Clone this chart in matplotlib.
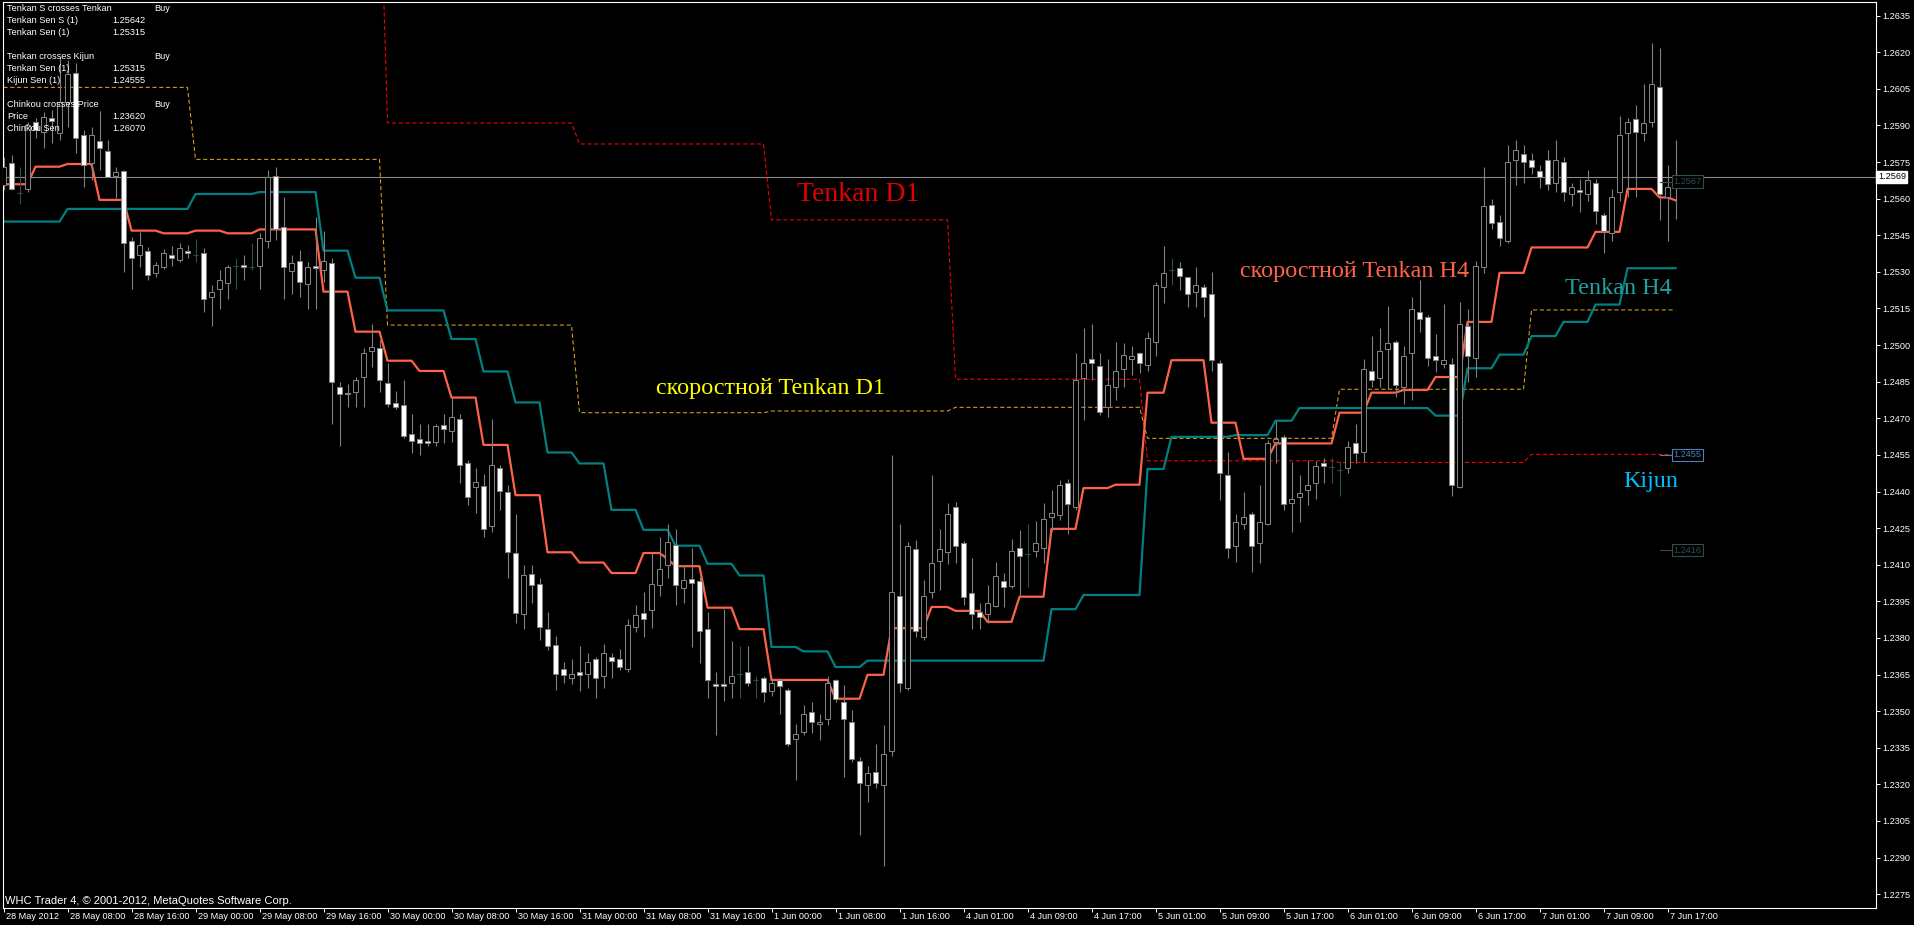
import numpy as np
import matplotlib
matplotlib.use("Agg")
import matplotlib.pyplot as plt
import matplotlib.transforms as mtransforms
from matplotlib.patches import Rectangle

plt.rcParams['font.family'] = ['Liberation Sans', 'DejaVu Sans']

W, H = 1914, 925

# EURUSD H1 candles, 28 May - 7 Jun 2012
opens = [1.25656, 1.25748, 1.25625, 1.25638, 1.25915, 1.25875, 1.25929, 1.25870, 1.25997, 1.26116,
         1.25859, 1.25748, 1.25838, 1.25797, 1.25694, 1.25715, 1.25428, 1.25368, 1.25387, 1.25297,
         1.25319, 1.25368, 1.25349, 1.25387, 1.25368, 1.25376, 1.25196, 1.25229, 1.25256, 1.25325,
         1.25327, 1.25320, 1.25326, 1.25428, 1.25694, 1.25485, 1.25305, 1.25346, 1.25249, 1.25325,
         1.25308, 1.25338, 1.24827, 1.24805, 1.24806, 1.24868, 1.24977, 1.24987, 1.24846, 1.24764,
         1.24756, 1.24634, 1.24615, 1.24606, 1.24604, 1.24674, 1.24647, 1.24696, 1.24516, 1.24419,
         1.24424, 1.24257, 1.24495, 1.24397, 1.24147, 1.23897, 1.24063, 1.24022, 1.23836, 1.23772,
         1.23674, 1.23636, 1.23661, 1.23654, 1.23715, 1.23646, 1.23722, 1.23715, 1.23672, 1.23843,
         1.23904, 1.23915, 1.24015, 1.24097, 1.24180, 1.24006, 1.24043, 1.24033, 1.23836, 1.23613,
         1.23613, 1.23614, 1.23654, 1.23661, 1.23627, 1.23634, 1.23584, 1.23627, 1.23586, 1.23384,
         1.23414, 1.23495, 1.23448, 1.23468, 1.23627, 1.23536, 1.23454, 1.23294, 1.23196, 1.23252,
         1.23196, 1.23336, 1.23972, 1.23593, 1.24166, 1.23805, 1.23987, 1.24116, 1.24154, 1.24335,
         1.24188, 1.23985, 1.23905, 1.23898, 1.23930, 1.24034, 1.24012, 1.24167, 1.24146, 1.24156,
         1.24167, 1.24294, 1.24303, 1.24436, 1.24335, 1.24867, 1.24945, 1.24915, 1.24745, 1.24827,
         1.24903, 1.24945, 1.24966, 1.24917, 1.25014, 1.25236, 1.25307, 1.25317, 1.25277, 1.25216,
         1.25236, 1.25208, 1.24925, 1.24466, 1.24177, 1.24267, 1.24306, 1.24188, 1.24267, 1.24604,
         1.24624, 1.24354, 1.24376, 1.24406, 1.24436, 1.24515, 1.24499, 1.24488, 1.24495, 1.24597,
         1.24563, 1.24895, 1.24867, 1.24986, 1.25014, 1.24827, 1.24966, 1.25136, 1.25117, 1.24956,
         1.24924, 1.24924, 1.24418, 1.25078, 1.24946, 1.25319, 1.25575, 1.25505, 1.25428, 1.25757,
         1.25783, 1.25757, 1.25714, 1.25757, 1.25666, 1.25750, 1.25618, 1.25637, 1.25618, 1.25666,
         1.25534, 1.25458, 1.25627, 1.25867, 1.25927, 1.25868, 1.25915, 1.26057, 1.25605, 1.25656]
highs = [1.25772, 1.25779, 1.25731, 1.25915, 1.25929, 1.25956, 1.25963, 1.26182, 1.26168, 1.26155,
         1.25881, 1.25895, 1.25959, 1.25840, 1.25731, 1.25717, 1.25444, 1.25465, 1.25403, 1.25342,
         1.25392, 1.25407, 1.25420, 1.25410, 1.25433, 1.25397, 1.25246, 1.25308, 1.25328, 1.25356,
         1.25369, 1.25417, 1.25458, 1.25717, 1.25731, 1.25608, 1.25369, 1.25390, 1.25342, 1.25526,
         1.25469, 1.25356, 1.24850, 1.24839, 1.24868, 1.24987, 1.25086, 1.25021, 1.24925, 1.24813,
         1.24857, 1.24716, 1.24677, 1.24677, 1.24677, 1.24716, 1.24782, 1.24716, 1.24530, 1.24495,
         1.24472, 1.24697, 1.24507, 1.24427, 1.24306, 1.24100, 1.24100, 1.24045, 1.23907, 1.23809,
         1.23702, 1.23715, 1.23766, 1.23738, 1.23722, 1.23775, 1.23738, 1.23753, 1.23878, 1.23933,
         1.23987, 1.24154, 1.24215, 1.24268, 1.24245, 1.24097, 1.24169, 1.24048, 1.23907, 1.23661,
         1.23919, 1.23786, 1.23768, 1.23768, 1.23646, 1.23646, 1.23631, 1.23636, 1.23593, 1.23449,
         1.23525, 1.23536, 1.23490, 1.23646, 1.23631, 1.23608, 1.23505, 1.23313, 1.23275, 1.23366,
         1.23445, 1.24548, 1.24268, 1.24192, 1.24203, 1.24036, 1.24468, 1.24245, 1.24351, 1.24358,
         1.24199, 1.24126, 1.23942, 1.24017, 1.24112, 1.24067, 1.24204, 1.24242, 1.24267, 1.24280,
         1.24354, 1.24406, 1.24447, 1.24450, 1.24969, 1.25068, 1.25086, 1.24966, 1.24945, 1.25011,
         1.25007, 1.24996, 1.24971, 1.25055, 1.25259, 1.25408, 1.25355, 1.25341, 1.25280, 1.25318,
         1.25250, 1.25298, 1.24938, 1.24563, 1.24308, 1.24398, 1.24316, 1.24426, 1.24611, 1.24690,
         1.24631, 1.24522, 1.24467, 1.24529, 1.24526, 1.24536, 1.24536, 1.24526, 1.24608, 1.24676,
         1.24945, 1.25038, 1.25068, 1.25160, 1.25020, 1.24996, 1.25195, 1.25266, 1.25125, 1.25047,
         1.25167, 1.24949, 1.25176, 1.25147, 1.25344, 1.25729, 1.25597, 1.25534, 1.25820, 1.25839,
         1.25820, 1.25788, 1.25739, 1.25798, 1.25839, 1.25772, 1.25666, 1.25681, 1.25717, 1.25681,
         1.25542, 1.25640, 1.25940, 1.25930, 1.25985, 1.26069, 1.26237, 1.26219, 1.25739, 1.25839]
lows = [1.25636, 1.25636, 1.25578, 1.25629, 1.25847, 1.25806, 1.25827, 1.25840, 1.25895, 1.25786,
        1.25649, 1.25677, 1.25717, 1.25687, 1.25601, 1.25301, 1.25229, 1.25321, 1.25267, 1.25280,
        1.25310, 1.25326, 1.25342, 1.25356, 1.25342, 1.25137, 1.25078, 1.25147, 1.25188, 1.25229,
        1.25267, 1.25308, 1.25229, 1.25397, 1.25431, 1.25188, 1.25208, 1.25198, 1.25147, 1.25147,
        1.25260, 1.24675, 1.24587, 1.24745, 1.24745, 1.24745, 1.24912, 1.24806, 1.24748, 1.24737,
        1.24618, 1.24557, 1.24550, 1.24587, 1.24587, 1.24598, 1.24604, 1.24434, 1.24345, 1.24313,
        1.24215, 1.24233, 1.24324, 1.24045, 1.23863, 1.23836, 1.23945, 1.23793, 1.23752, 1.23586,
        1.23616, 1.23613, 1.23584, 1.23593, 1.23555, 1.23593, 1.23636, 1.23669, 1.23661, 1.23824,
        1.23805, 1.23842, 1.23972, 1.24045, 1.23933, 1.23945, 1.23763, 1.23699, 1.23555, 1.23404,
        1.23540, 1.23555, 1.23555, 1.23605, 1.23555, 1.23536, 1.23563, 1.23487, 1.23358, 1.23217,
        1.23404, 1.23411, 1.23381, 1.23445, 1.23536, 1.23232, 1.23293, 1.22993, 1.23126, 1.23184,
        1.22866, 1.23318, 1.23578, 1.23586, 1.23805, 1.23793, 1.23965, 1.23995, 1.24101, 1.24106,
        1.23935, 1.23835, 1.23835, 1.23860, 1.23925, 1.23925, 1.24003, 1.23969, 1.24007, 1.24133,
        1.24106, 1.24239, 1.24283, 1.24226, 1.24324, 1.24695, 1.24857, 1.24713, 1.24706, 1.24775,
        1.24827, 1.24877, 1.24887, 1.24895, 1.24955, 1.25173, 1.25246, 1.25225, 1.25157, 1.25157,
        1.25116, 1.24895, 1.24365, 1.24126, 1.24112, 1.24245, 1.24069, 1.24106, 1.24263, 1.24518,
        1.24324, 1.24235, 1.24276, 1.24344, 1.24368, 1.24436, 1.24436, 1.24381, 1.24477, 1.24515,
        1.24522, 1.24827, 1.24829, 1.24822, 1.24786, 1.24758, 1.24777, 1.25055, 1.24915, 1.24891,
        1.24905, 1.24383, 1.24415, 1.24847, 1.24869, 1.25296, 1.25476, 1.25407, 1.25417, 1.25656,
        1.25666, 1.25700, 1.25644, 1.25637, 1.25627, 1.25589, 1.25568, 1.25546, 1.25589, 1.25498,
        1.25378, 1.25428, 1.25589, 1.25608, 1.25608, 1.25837, 1.25893, 1.25513, 1.25428, 1.25515]
closes = [1.25731, 1.25638, 1.25625, 1.25902, 1.25881, 1.25936, 1.25920, 1.25997, 1.26111, 1.25850,
          1.25738, 1.25859, 1.25806, 1.25690, 1.25708, 1.25417, 1.25356, 1.25409, 1.25286, 1.25327,
          1.25376, 1.25356, 1.25397, 1.25376, 1.25368, 1.25188, 1.25218, 1.25267, 1.25321, 1.25325,
          1.25319, 1.25320, 1.25437, 1.25687, 1.25477, 1.25319, 1.25338, 1.25259, 1.25321, 1.25317,
          1.25346, 1.24849, 1.24798, 1.24798, 1.24857, 1.24966, 1.24994, 1.24857, 1.24759, 1.24745,
          1.24628, 1.24607, 1.24598, 1.24598, 1.24669, 1.24655, 1.24707, 1.24509, 1.24378, 1.24438,
          1.24245, 1.24507, 1.24404, 1.24154, 1.23904, 1.24056, 1.24018, 1.23843, 1.23768, 1.23654,
          1.23648, 1.23654, 1.23648, 1.23702, 1.23636, 1.23738, 1.23705, 1.23681, 1.23854, 1.23896,
          1.23878, 1.24022, 1.24083, 1.24195, 1.24018, 1.24036, 1.24025, 1.23828, 1.23627, 1.23605,
          1.23605, 1.23646, 1.23654, 1.23614, 1.23627, 1.23578, 1.23616, 1.23605, 1.23366, 1.23407,
          1.23487, 1.23454, 1.23457, 1.23616, 1.23548, 1.23469, 1.23305, 1.23207, 1.23245, 1.23207,
          1.23324, 1.23987, 1.23616, 1.24177, 1.23828, 1.23972, 1.24106, 1.24166, 1.24306, 1.24177,
          1.23969, 1.23898, 1.23887, 1.23944, 1.24055, 1.24007, 1.24156, 1.24135, 1.24146, 1.24188,
          1.24286, 1.24314, 1.24426, 1.24348, 1.24857, 1.24925, 1.24925, 1.24726, 1.24835, 1.24895,
          1.24958, 1.24956, 1.24925, 1.25027, 1.25248, 1.25296, 1.25307, 1.25285, 1.25209, 1.25248,
          1.25198, 1.24938, 1.24474, 1.24167, 1.24276, 1.24294, 1.24177, 1.24276, 1.24597, 1.24617,
          1.24348, 1.24368, 1.24395, 1.24426, 1.24506, 1.24506, 1.24499, 1.24488, 1.24583, 1.24556,
          1.24904, 1.24857, 1.24977, 1.25007, 1.24835, 1.24956, 1.25146, 1.25105, 1.24949, 1.24939,
          1.24939, 1.24425, 1.25085, 1.24956, 1.25325, 1.25568, 1.25501, 1.25439, 1.25750, 1.25798,
          1.25750, 1.25729, 1.25688, 1.25659, 1.25757, 1.25627, 1.25647, 1.25627, 1.25678, 1.25549,
          1.25466, 1.25605, 1.25859, 1.25915, 1.25875, 1.25908, 1.26069, 1.25618, 1.25647, 1.25688]

# Tenkan / Kijun (H1), as levels starting at bar index
tenkan_start = [0, 4, 8, 12, 16, 20, 24, 28, 32, 40, 44, 48, 52, 56, 60, 64, 68, 72, 76, 80,
                83, 84, 88, 92, 96, 104, 108, 111, 116, 119, 123, 127, 131, 135, 139, 143, 146, 151, 155, 159,
                167, 171, 175, 179, 183, 187, 191, 199, 203, 207, 209]
tenkan_val = [1.25659, 1.25731, 1.25742, 1.25595, 1.25469, 1.25458, 1.25469, 1.25458, 1.25474, 1.25219,
              1.25055, 1.24936, 1.24894, 1.24785, 1.24591, 1.24385, 1.24151, 1.24109, 1.24066, 1.24148,
              1.24124, 1.24094, 1.23924, 1.23836, 1.23628, 1.23551, 1.23649, 1.23840, 1.23927, 1.23911,
              1.23866, 1.23969, 1.24247, 1.24414, 1.24428, 1.24805, 1.24938, 1.24682, 1.24534, 1.24597,
              1.24723, 1.24805, 1.24816, 1.24869, 1.25095, 1.25296, 1.25400, 1.25464, 1.25640, 1.25605,
              1.25593]
kijun_start = [0, 8, 24, 32, 40, 44, 48, 56, 60, 64, 68, 72, 76, 80, 84, 88, 92, 96, 100, 104,
               108, 131, 135, 143, 146, 154, 159, 162, 179, 183, 187, 191, 195, 199, 203]
kijun_val = [1.25506, 1.25558, 1.25619, 1.25627, 1.25387, 1.25276, 1.25142, 1.25025, 1.24892, 1.24765,
             1.24560, 1.24515, 1.24325, 1.24243, 1.24178, 1.24104, 1.24056, 1.23763, 1.23745, 1.23681,
             1.23707, 1.23918, 1.23976, 1.24492, 1.24624, 1.24631, 1.24690, 1.24742, 1.24711, 1.24905,
             1.24961, 1.25037, 1.25095, 1.25166, 1.25315]

# daily lines (D1 tenkan and "fast" D1 tenkan)
day_start = [0, 24, 48, 72, 96, 119, 143, 167, 191]
tenkan_d1 = [1.2700, 1.2700, 1.25910, 1.25824, 1.25513, 1.24860, 1.24526, 1.24519, 1.24552]
fast_tenkan_d1 = [1.26056, 1.25761, 1.25082, 1.24723, 1.24730, 1.24745, 1.24618, 1.24819, 1.25144]

time_labels = ["28 May 2012", "28 May 08:00", "28 May 16:00", "29 May 00:00", "29 May 08:00",
               "29 May 16:00", "30 May 00:00", "30 May 08:00", "30 May 16:00", "31 May 00:00",
               "31 May 08:00", "31 May 16:00", "1 Jun 00:00", "1 Jun 08:00", "1 Jun 16:00",
               "4 Jun 01:00", "4 Jun 09:00", "4 Jun 17:00", "5 Jun 01:00", "5 Jun 09:00",
               "5 Jun 17:00", "6 Jun 01:00", "6 Jun 09:00", "6 Jun 17:00", "7 Jun 01:00",
               "7 Jun 09:00", "7 Jun 17:00"]
price_ticks = np.round(np.arange(1.2275, 1.26351, 0.0015), 4)
last_price = 1.2569
price_labels = [1.2567, 1.2455, 1.2416]
price_label_colors = ['#2F4F4F', '#4A7FC0', '#2F4F4F']

info_rows = [("Tenkan S crosses Tenkan", "Buy"), ("Tenkan Sen S (1)", "1.25642"), ("Tenkan Sen (1)", "1.25315"),
             None,
             ("Tenkan crosses Kijun", "Buy"), ("Tenkan Sen (1)", "1.25315"), ("Kijun Sen (1)", "1.24555"),
             None,
             ("Chinkou crosses Price", "Buy"), ("Price", "1.23620"), ("Chinkou Sen", "1.26070")]


def steps(starts, vals, n):
    out = np.zeros(n)
    for s, v in zip(starts, vals):
        out[s:] = v
    return out


def fx(px):
    return px / W


def fy(py):
    return 1 - py / H


fig = plt.figure(figsize=(W / 100, H / 100), dpi=100, facecolor='black')
ax = fig.add_axes([fx(2.5), (H - 908) / H, (1876 - 2.5) / W, (908 - 1.7) / H], facecolor='black')
n = len(opens)
x = np.arange(n)
ax.set_xlim(-0.125, 234.06)
ax.set_ylim(1.226935, 1.264070)

ax.axhline(last_price, color='#8c8c8c', lw=0.8, zorder=1)

dot = (0, (4, 2.5))
ax.plot(x, steps(day_start, tenkan_d1, n), color='#FF0000', lw=0.75, ls=dot, zorder=2)
ax.plot(x, steps(day_start, fast_tenkan_d1, n), color='#DAA520', lw=0.75, ls=dot, zorder=2)
ax.plot(x, steps(kijun_start, kijun_val, n), color='#008080', lw=1.6, zorder=2)
ax.plot(x, steps(tenkan_start, tenkan_val, n), color='#FF6347', lw=1.6, zorder=2)

# candles
for i in range(n):
    o, h, l, c = opens[i], highs[i], lows[i], closes[i]
    if c == o:
        ax.vlines(i, l, h, color='#2F4F4F', lw=0.8, zorder=3)
        ax.hlines(o, i - 0.3, i + 0.3, color='#2F4F4F', lw=0.8, zorder=3)
        continue
    ax.vlines(i, l, h, color='#808080', lw=0.8, zorder=3)
    fc = 'black' if c > o else 'white'
    ax.add_patch(Rectangle((i - 0.27, min(o, c)), 0.54, abs(c - o), fc=fc, ec='#808080', lw=0.75, zorder=4))

# price labels near the last bar
for p, col in zip(price_labels, price_label_colors):
    ax.plot([207.1, 208.45], [p, p], color=col, lw=0.8, zorder=5)
    ax.text(208.75, p, f'{p:.4f}', color=col, fontsize=6.6, ha='left', va='center', zorder=5,
            bbox=dict(boxstyle='square,pad=0.2', fc='black', ec=col, lw=0.8))

# axes styling
for s in ax.spines.values():
    s.set_color('white')
    s.set_linewidth(0.8)
ax.yaxis.tick_right()
ax.set_yticks(price_ticks)
ax.set_yticklabels([f'{v:.4f}' for v in price_ticks])
ax.tick_params(axis='y', colors='white', labelsize=6.6, length=3, width=0.7, pad=1.5)
ax.set_xticks(range(0, n, 8))
ax.set_xticklabels([])
ax.tick_params(axis='x', colors='white', length=3, width=0.7)
for k, lab in enumerate(time_labels):
    ax.text(k * 8 + 0.25, -0.0096, lab, transform=ax.get_xaxis_transform(), color='white',
            fontsize=6.6, ha='left', va='center', clip_on=False)

trans = mtransforms.blended_transform_factory(ax.transAxes, ax.transData)
ax.text(1.001, last_price, f'{last_price:.4f}', transform=trans, color='black', fontsize=6.6,
        ha='left', va='center', clip_on=False, zorder=6,
        bbox=dict(boxstyle='square,pad=0.15', fc='white', ec='white'))

# info panel
for r, row in enumerate(info_rows):
    if row is None:
        continue
    yy = 8.3 + 12 * r
    fig.text(fx(7.3), fy(yy), row[0], color='white', fontsize=6.6, va='center', ha='left')
    if row[1] == "Buy":
        fig.text(fx(154), fy(yy), row[1], color='white', fontsize=6.6, va='center', ha='left')
    else:
        fig.text(fx(145.5), fy(yy), row[1], color='white', fontsize=6.6, va='center', ha='right')

fig.text(fx(5), fy(900.7), "WHC Trader 4, \u00a9 2001-2012, MetaQuotes Software Corp.", color='white',
         fontsize=8.0, va='center', ha='left')

# chart annotations
serif = 'Liberation Serif'
fig.text(fx(858), fy(201), "Tenkan D1", color='#E00000', fontsize=20, family=serif, ha='center', va='baseline')
fig.text(fx(770), fy(393.6), "скоростной Tenkan D1", color='#FFFF00', fontsize=17.4, family=serif,
         ha='center', va='baseline')
fig.text(fx(1355), fy(277.3), "скоростной Tenkan H4", color='#FF6347', fontsize=17.4, family=serif,
         ha='center', va='baseline')
fig.text(fx(1618), fy(294.3), "Tenkan H4", color='#20A0A0', fontsize=17.4, family=serif,
         ha='center', va='baseline')
fig.text(fx(1650.5), fy(487.3), "Kijun", color='#00BFFF', fontsize=17.4, family=serif,
         ha='center', va='baseline')

fig.savefig('out.png', dpi=100, facecolor='black')
